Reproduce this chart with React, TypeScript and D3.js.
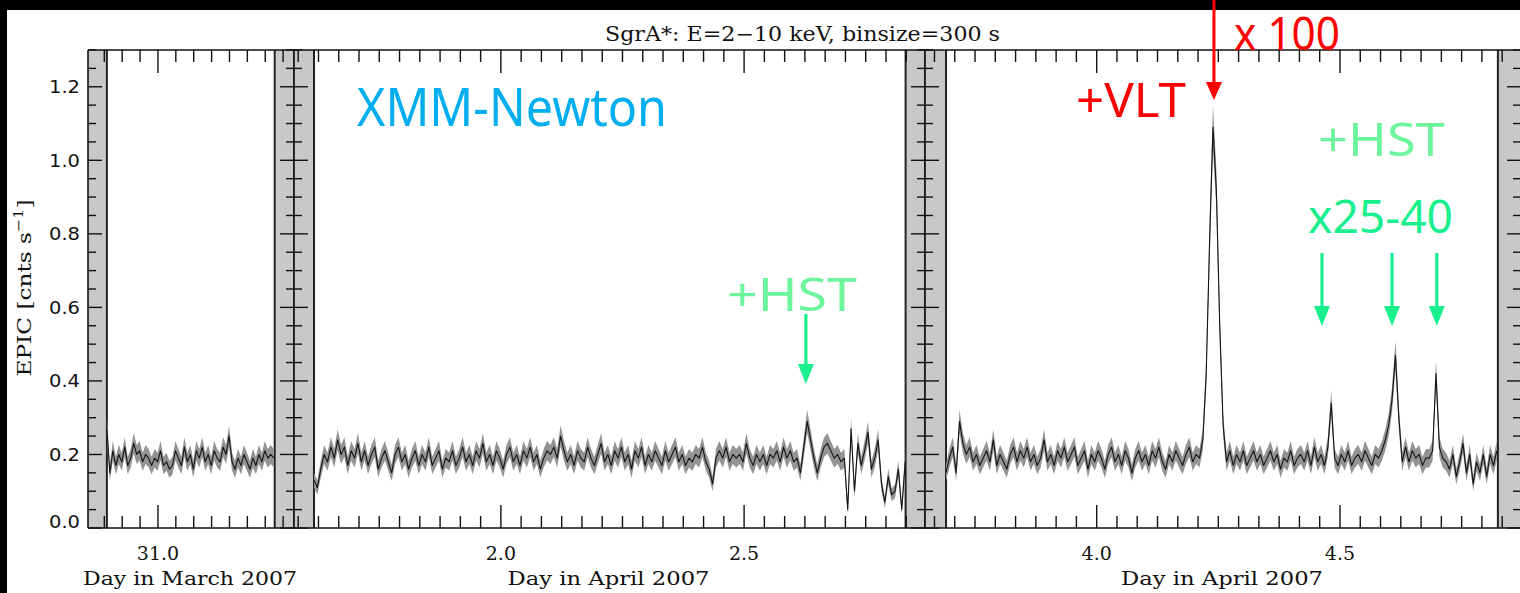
import React from 'react';
import * as d3 from 'd3';

// ---------------- data ----------------
const BIN_DAYS = 600 / 86400; // plotted point spacing (days)
const EXPOSURE_S = 300; // binsize from title (for Poisson error band)

const P1_START = 30.881;
const P2_START = 1.6158;
const P3_START = 3.6904;

const P1_VALUES = [
  0.27, 0.15, 0.21, 0.17, 0.20, 0.18, 0.22, 0.17, 0.19, 0.23,
  0.20, 0.21, 0.18, 0.20, 0.19, 0.17, 0.19, 0.18, 0.21, 0.17,
  0.18, 0.16, 0.17, 0.21, 0.19, 0.17, 0.22, 0.18, 0.20, 0.16,
  0.21, 0.19, 0.22, 0.18, 0.20, 0.17, 0.21, 0.19, 0.18, 0.22,
  0.20, 0.25, 0.18, 0.16, 0.19, 0.17, 0.20, 0.18, 0.16, 0.19,
  0.17, 0.20, 0.18, 0.21, 0.19, 0.20, 0.19,
];

const P2_VALUES = [
  0.13, 0.11, 0.16, 0.20, 0.18, 0.22, 0.19, 0.24, 0.20, 0.22,
  0.17, 0.21, 0.19, 0.23, 0.18, 0.21, 0.17, 0.20, 0.22, 0.16,
  0.19, 0.21, 0.18, 0.15, 0.20, 0.22, 0.18, 0.20, 0.16, 0.19,
  0.21, 0.17, 0.20, 0.18, 0.22, 0.17, 0.19, 0.21, 0.16, 0.19,
  0.18, 0.21, 0.17, 0.19, 0.22, 0.18, 0.20, 0.17, 0.21, 0.19,
  0.23, 0.18, 0.20, 0.17, 0.21, 0.19, 0.16, 0.20, 0.22, 0.18,
  0.20, 0.17, 0.21, 0.19, 0.22, 0.18, 0.20, 0.16, 0.19, 0.21,
  0.20, 0.22, 0.19, 0.25, 0.21, 0.18, 0.20, 0.17, 0.21, 0.19,
  0.18, 0.22, 0.19, 0.17, 0.20, 0.23, 0.18, 0.20, 0.17, 0.21,
  0.19, 0.22, 0.18, 0.20, 0.16, 0.21, 0.19, 0.22, 0.17, 0.20,
  0.18, 0.21, 0.19, 0.17, 0.21, 0.18, 0.20, 0.22, 0.18, 0.20,
  0.17, 0.19, 0.18, 0.20, 0.19, 0.22, 0.18, 0.16, 0.12, 0.19,
  0.21, 0.19, 0.22, 0.18, 0.20, 0.19, 0.20, 0.18, 0.23, 0.19,
  0.17, 0.20, 0.18, 0.20, 0.17, 0.20, 0.19, 0.21, 0.18, 0.22,
  0.19, 0.21, 0.18, 0.19, 0.15, 0.22, 0.29, 0.24, 0.19, 0.15,
  0.19, 0.22, 0.23, 0.21, 0.19, 0.20, 0.18, 0.19, 0.05, 0.27,
  0.10, 0.23, 0.17, 0.21, 0.26, 0.16, 0.19, 0.24, 0.12, 0.07,
  0.14, 0.09, 0.10, 0.16, 0.05, 0.18,
];

const P3_VALUES = [
  0.15, 0.19, 0.22, 0.15, 0.29, 0.23, 0.20, 0.22, 0.18, 0.20,
  0.17, 0.19, 0.21, 0.18, 0.24, 0.17, 0.20, 0.18, 0.16, 0.20,
  0.22, 0.18, 0.21, 0.19, 0.22, 0.18, 0.20, 0.17, 0.19, 0.24,
  0.18, 0.20, 0.17, 0.21, 0.19, 0.22, 0.18, 0.20, 0.22, 0.17,
  0.19, 0.21, 0.16, 0.20, 0.18, 0.21, 0.19, 0.16, 0.20, 0.22,
  0.18, 0.20, 0.17, 0.21, 0.19, 0.15, 0.19, 0.21, 0.18, 0.20,
  0.17, 0.21, 0.19, 0.22, 0.18, 0.16, 0.20, 0.18, 0.21, 0.19,
  0.17, 0.20, 0.22, 0.18, 0.20, 0.19, 0.24, 0.42, 0.78, 1.09,
  0.92, 0.55, 0.28, 0.18, 0.21, 0.17, 0.20, 0.18, 0.21, 0.17,
  0.19, 0.21, 0.18, 0.20, 0.17, 0.19, 0.21, 0.18, 0.20, 0.16,
  0.19, 0.18, 0.21, 0.17, 0.19, 0.20, 0.18, 0.21, 0.17, 0.22,
  0.18, 0.20, 0.17, 0.22, 0.34, 0.19, 0.17, 0.20, 0.18, 0.21,
  0.17, 0.19, 0.20, 0.18, 0.21, 0.19, 0.17, 0.20, 0.19, 0.21,
  0.24, 0.28, 0.35, 0.47, 0.30, 0.18, 0.22, 0.18, 0.21, 0.19,
  0.20, 0.17, 0.19, 0.19, 0.21, 0.42, 0.22, 0.19, 0.18, 0.16,
  0.20, 0.14, 0.18, 0.23, 0.15, 0.20, 0.12, 0.18, 0.15, 0.20,
  0.14, 0.20, 0.17, 0.21,
];

// axis domains (days) and data gaps (gray)
const P1_DOMAIN = [30.837, 31.317];
const P2_DOMAIN = [1.5747, 2.8719];
const P3_DOMAIN = [3.6472, 4.872];
const P1_GAPS = [[30.837, 30.881], [31.272, 31.317]];
const P2_GAPS = [[1.5747, 1.6158], [2.832, 2.8719]];
const P3_GAPS = [[3.6472, 3.6904], [4.8245, 4.872]];

const Y_MAJOR_TICKS = [0, 0.2, 0.4, 0.6, 0.8, 1.0, 1.2];
const X_TITLES = ['Day in March 2007', 'Day in April 2007', 'Day in April 2007'];
const TITLE = 'SgrA*: E=2\u221210 keV, binsize=300 s';

// annotation days
const VLT_DAY = 4.241;
const HST_DAY_P2 = 2.627;
const HST_DAYS_P3 = [4.463, 4.607, 4.699];

// ---------------- layout ----------------
const W = 1520;
const H = 593;
const Y_TOP = 50;
const Y_BOT = 528;

const yScale = d3.scaleLinear().domain([0, 1.3]).range([Y_BOT, Y_TOP]);

const panels = [
  { domain: P1_DOMAIN, range: [88, 294], start: P1_START, values: P1_VALUES, gaps: P1_GAPS, title: X_TITLES[0], titleLen: 214 },
  { domain: P2_DOMAIN, range: [294, 925], start: P2_START, values: P2_VALUES, gaps: P2_GAPS, title: X_TITLES[1], titleLen: 202 },
  { domain: P3_DOMAIN, range: [925, 1521], start: P3_START, values: P3_VALUES, gaps: P3_GAPS, title: X_TITLES[2], titleLen: 202 },
].map((p) => ({ ...p, x: d3.scaleLinear().domain(p.domain).range(p.range) }));

const serif = '"DejaVu Serif", "Liberation Serif", serif';
const sans = '"DejaVu Sans", "Liberation Sans", Arial, sans-serif';
const annot = '"Noto Sans", "Open Sans", sans-serif';

const GREEN_LIGHT = '#6cf59c';
const GREEN = '#19ef8d';

function yMinorTicks() {
  return d3.range(0, 27).map((k) => ({ v: k * 0.05, major: k % 4 === 0 }));
}

function xTicks(domain: number[]) {
  const k0 = Math.ceil(domain[0] * 24 - 1e-9);
  const k1 = Math.floor(domain[1] * 24 + 1e-9);
  return d3.range(k0, k1 + 1).map((k) => ({ v: k / 24, major: k % 12 === 0 }));
}

function Arrow({ x, y0, y1, color, headLen = 20, headHalf = 8, width = 3.2 }: any) {
  return (
    <g>
      <line x1={x} x2={x} y1={y0} y2={y1 - headLen + 2} stroke={color} strokeWidth={width} />
      <path d={`M${x - headHalf},${y1 - headLen} L${x + headHalf},${y1 - headLen} L${x},${y1} Z`} fill={color} />
    </g>
  );
}

export default function App() {
  const yt = yMinorTicks();
  return (
    <svg
      width={W}
      height={H}
      viewBox={`0 0 ${W} ${H}`}
      style={{ position: 'absolute', left: 0, top: 0, display: 'block', background: '#fff' }}
    >
      <rect x={0} y={0} width={W} height={H} fill="#fff" />

      {panels.map((p, pi) => {
        const pts = p.values.map((v, i) => ({ t: p.start + i * BIN_DAYS, v, e: Math.sqrt(Math.max(v, 0.02) / EXPOSURE_S) }));
        const area = d3
          .area<any>()
          .x((d) => p.x(d.t))
          .y0((d) => yScale(Math.max(0, d.v - d.e)))
          .y1((d) => yScale(d.v + d.e));
        const line = d3
          .line<any>()
          .x((d) => p.x(d.t))
          .y((d) => yScale(d.v));
        const ticks = xTicks(p.domain);
        const [r0, r1] = p.range;
        return (
          <g key={pi}>
            {p.gaps.map((g, gi) => (
              <rect key={gi} x={p.x(g[0])} y={Y_TOP} width={p.x(g[1]) - p.x(g[0])} height={Y_BOT - Y_TOP} fill="#c8c8c8" />
            ))}
            {p.gaps.map((g, gi) => {
              const gx = gi === 0 ? p.x(g[1]) : p.x(g[0]);
              return <line key={'e' + gi} x1={gx} x2={gx} y1={Y_TOP} y2={Y_BOT} stroke="#222" strokeWidth={2} />;
            })}
            <path d={area(pts) || ''} fill="#939393" />
            <path d={line(pts) || ''} fill="none" stroke="#141414" strokeWidth={1.1} strokeLinejoin="round" />

            {/* x ticks top & bottom */}
            {ticks.map((t, ti) => {
              const xx = p.x(t.v);
              const len = t.major ? 23 : 12;
              return (
                <g key={'xt' + ti} stroke="#111" strokeWidth={1.4}>
                  <line x1={xx} x2={xx} y1={Y_BOT} y2={Y_BOT - len} />
                  <line x1={xx} x2={xx} y1={Y_TOP} y2={Y_TOP + len} />
                </g>
              );
            })}
            {ticks
              .filter((t) => t.major)
              .map((t, ti) => (
                <text
                  key={'xl' + ti}
                  x={p.x(t.v)}
                  y={560}
                  textAnchor="middle"
                  fontFamily={serif}
                  fontSize={19}
                  fill="#111"
                >
                  {t.v.toFixed(1)}
                </text>
              ))}
            <text
              x={(r0 + r1) / 2 - 1}
              y={585}
              textAnchor="middle"
              fontFamily={serif}
              fontSize={19}
              fill="#111"
              textLength={p.titleLen}
              lengthAdjust="spacingAndGlyphs"
            >
              {p.title}
            </text>

            {/* y ticks on both sides of the panel */}
            {yt.map((t, ti) => {
              const yy = yScale(t.v);
              const len = t.major ? 14 : 8;
              return (
                <g key={'yt' + ti} stroke="#111" strokeWidth={1.4}>
                  <line x1={r0} x2={r0 + len} y1={yy} y2={yy} />
                  <line x1={r1} x2={r1 - len} y1={yy} y2={yy} />
                </g>
              );
            })}
            <line x1={r0} x2={r0} y1={Y_TOP} y2={Y_BOT} stroke="#111" strokeWidth={1.6} />
            <line x1={r1} x2={r1} y1={Y_TOP} y2={Y_BOT} stroke="#111" strokeWidth={1.6} />
          </g>
        );
      })}

      {/* frame top & bottom */}
      <line x1={88} x2={1521} y1={Y_TOP} y2={Y_TOP} stroke="#111" strokeWidth={1.6} />
      <line x1={88} x2={1521} y1={Y_BOT} y2={Y_BOT} stroke="#111" strokeWidth={1.6} />

      {/* y tick labels */}
      {Y_MAJOR_TICKS.map((v) => (
        <text
          key={'yl' + v}
          x={80}
          y={Math.min(yScale(v), 521) + 6.5}
          textAnchor="end"
          fontFamily={sans}
          fontSize={17.5}
          fill="#111"
          textLength={31}
          lengthAdjust="spacingAndGlyphs"
        >
          {v.toFixed(1)}
        </text>
      ))}

      {/* y axis title */}
      <text
        transform="translate(31,288) rotate(-90)"
        textAnchor="middle"
        fontFamily={serif}
        fontSize={19}
        fill="#111"
        textLength={177}
        lengthAdjust="spacingAndGlyphs"
      >
        EPIC [cnts s<tspan dy={-8} fontSize={13}>{'\u22121'}</tspan>
        <tspan dy={8}>]</tspan>
      </text>

      {/* title */}
      <text
        x={802.5}
        y={41}
        textAnchor="middle"
        fontFamily={serif}
        fontSize={20}
        fill="#111"
        textLength={395}
        lengthAdjust="spacingAndGlyphs"
      >
        {TITLE}
      </text>

      {/* annotations */}
      <text x={357} y={126} fontFamily={annot} fontSize={52} fill="#00aeef" textLength={310} lengthAdjust="spacingAndGlyphs">
        XMM-Newton
      </text>
      <text x={727} y={311} fontFamily={annot} fontSize={46} fill={GREEN_LIGHT} textLength={130} lengthAdjust="spacingAndGlyphs">
        +HST
      </text>
      <Arrow x={panels[1].x(HST_DAY_P2)} y0={314} y1={384} color={GREEN} />

      <text x={1076} y={117} fontFamily={annot} fontSize={47} fill="#ff0000" textLength={110} lengthAdjust="spacingAndGlyphs">
        +VLT
      </text>
      <text x={1318} y={156} fontFamily={annot} fontSize={46} fill={GREEN_LIGHT} textLength={127} lengthAdjust="spacingAndGlyphs">
        +HST
      </text>
      <text x={1308} y={233} fontFamily={annot} fontSize={46} fill={GREEN} textLength={145} lengthAdjust="spacingAndGlyphs">
        x25-40
      </text>
      {HST_DAYS_P3.map((d) => (
        <Arrow key={d} x={panels[2].x(d)} y0={253} y1={326} color={GREEN} />
      ))}

      {/* black borders of the original figure */}
      <rect x={0} y={0} width={W} height={10} fill="#000" />
      <rect x={0} y={0} width={7} height={H} fill="#000" />

      <text x={1234} y={50} fontFamily={annot} fontSize={45} fill="#ff0000" textLength={106} lengthAdjust="spacingAndGlyphs">
        x 100
      </text>
      <Arrow x={panels[2].x(VLT_DAY)} y0={0} y1={100} color="#ff0000" headLen={18} headHalf={8} width={3} />
    </svg>
  );
}
